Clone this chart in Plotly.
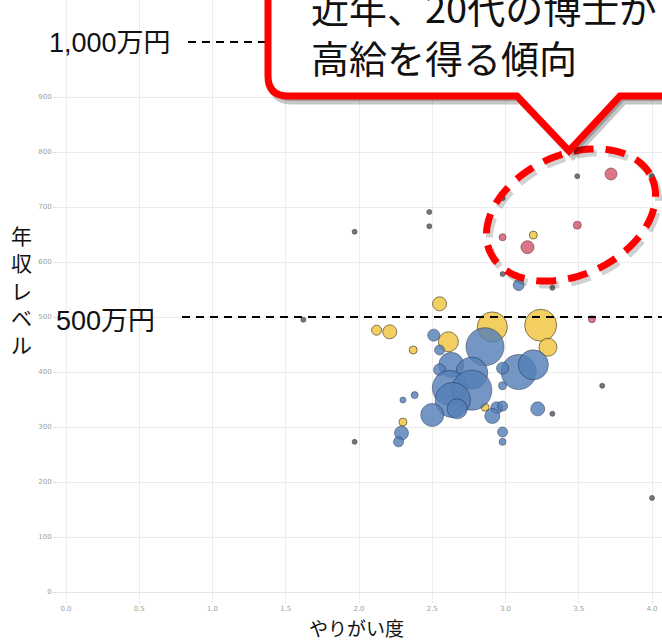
import math
import plotly.graph_objects as go

# ---- data: (やりがい度, 年収レベル, bubble size) per group ----
blue_x = [3.09, 2.51, 2.55, 2.86, 2.63, 2.77, 3.09, 3.19, 2.98, 2.55, 2.62, 2.77, 2.64,
          2.50, 2.67, 2.94, 2.98, 2.91, 3.22, 2.38, 2.30, 2.29, 2.27, 2.98, 2.98, 2.98]
blue_y = [558, 467, 440, 446, 413, 398, 400, 413, 407, 404, 371, 367, 349,
          322, 333, 335, 375, 320, 333, 358, 349, 289, 273, 291, 273, 338]
blue_s = [11, 12, 10, 38, 25, 32, 35, 30, 12, 12, 35, 40, 35,
          23, 20, 12, 8, 15, 14, 7, 6, 14, 10, 10, 7, 10]

yellow_x = [2.55, 2.12, 2.21, 2.91, 3.24, 3.29, 2.61, 2.37, 2.86, 2.30, 3.19]
yellow_y = [524, 476, 473, 482, 485, 445, 455, 440, 336, 309, 649]
yellow_s = [14, 10, 14, 30, 32, 18, 20, 8, 8, 8, 8]

pink_x = [3.72, 3.49, 2.98, 3.15, 3.59]
pink_y = [760, 667, 645, 627, 496]
pink_s = [12, 8, 7, 13, 7]

grey_x = [3.49, 4.00, 2.98, 2.48, 2.48, 1.97, 2.98, 3.32, 1.62, 3.32, 3.66, 1.97, 4.00]
grey_y = [756, 756, 716, 691, 665, 655, 578, 553, 495, 324, 375, 273, 171]
grey_s = [5, 5, 5, 5, 5, 5, 5, 5, 5, 5, 5, 5, 5]

x_ticks = [0.0, 0.5, 1.0, 1.5, 2.0, 2.5, 3.0, 3.5, 4.0]
y_ticks = [0, 100, 200, 300, 400, 500, 600, 700, 800, 900]

ref_levels = [500, 1000]
ref_labels = ["500万円", "1,000万円"]
callout_lines = ["近年、20代の博士が", "高給を得る傾向"]
y_title = "年収レベル"
x_title = "やりがい度"

# ---- layout geometry (pixels) ----
W, H = 662, 641
ML, MT, MB = 58, 0, 41
PW, PH = W - ML, H - MT - MB


def paper(px, py):
    return (px - ML) / PW, (MT + PH - py) / PH


JP = "Liberation Sans, Noto Sans CJK JP, sans-serif"

fig = go.Figure()


def bubbles(xs, ys, ss, color, line_color, opacity):
    fig.add_trace(go.Scatter(
        x=xs, y=ys, mode="markers",
        marker=dict(size=ss, sizemode="diameter", color=color, opacity=opacity,
                    line=dict(color=line_color, width=1)),
        hoverinfo="x+y", showlegend=False,
    ))


bubbles(yellow_x, yellow_y, yellow_s, "#f2c94c", "rgba(70,60,20,0.75)", 0.88)
bubbles(blue_x, blue_y, blue_s, "#5580b8", "rgba(30,40,70,0.6)", 0.82)
bubbles(pink_x, pink_y, pink_s, "#d9677a", "rgba(90,40,50,0.6)", 0.9)
bubbles(grey_x, grey_y, grey_s, "#5d5d66", "rgba(40,40,40,0.6)", 0.85)

shapes = []

# reference levels
x0_1000, _ = paper(188, 0)
x0_500, _ = paper(182, 0)
for lvl, x0 in zip(ref_levels, [x0_500, x0_1000]):
    shapes.append(dict(type="line", xref="paper", yref="y", x0=x0, x1=1.0,
                       y0=lvl, y1=lvl, layer="above",
                       line=dict(color="black", width=1.8, dash="8px,6px")))

# dashed ellipse around the high-income group
cx, cy, a, b, th = 571, 215, 89, 60, math.radians(25)


def ellipse_path(dx=0.0, dy=0.0):
    pts = []
    for i in range(97):
        t = 2 * math.pi * i / 96
        ex = cx + dx + a * math.cos(t) * math.cos(th) + b * math.sin(t) * math.sin(th)
        ey = cy + dy - a * math.cos(t) * math.sin(th) + b * math.sin(t) * math.cos(th)
        pts.append(paper(ex, ey))
    return "M " + " L ".join(f"{p[0]:.5f},{p[1]:.5f}" for p in pts) + " Z"


shapes.append(dict(type="path", xref="paper", yref="paper", path=ellipse_path(3, 4),
                   layer="above", line=dict(color="rgba(0,0,0,0.18)", width=7, dash="20px,12px")))
shapes.append(dict(type="path", xref="paper", yref="paper", path=ellipse_path(),
                   layer="above", line=dict(color="#ff0000", width=7, dash="20px,12px")))


# speech-bubble callout
def callout_path(dx=0.0, dy=0.0):
    seg = [("M", (720, -80)), ("L", (720, 96)), ("L", (620, 96)), ("L", (569, 151)),
           ("L", (517, 96)), ("L", (288, 96))]
    s = ""
    for cmd, (px, py) in seg:
        x, y = paper(px + dx, py + dy)
        s += f"{cmd} {x:.5f},{y:.5f} "
    qx, qy = paper(268 + dx, 96 + dy)
    ex, ey = paper(268 + dx, 76 + dy)
    s += f"Q {qx:.5f},{qy:.5f} {ex:.5f},{ey:.5f} "
    x, y = paper(268 + dx, -80 + dy)
    s += f"L {x:.5f},{y:.5f} Z"
    return s


shapes.append(dict(type="path", xref="paper", yref="paper", path=callout_path(4, 5),
                   layer="above", fillcolor="rgba(0,0,0,0.22)",
                   line=dict(color="rgba(0,0,0,0.22)", width=7)))
shapes.append(dict(type="path", xref="paper", yref="paper", path=callout_path(),
                   layer="above", fillcolor="white",
                   line=dict(color="#ff0000", width=7)))

annotations = []
for lbl, (px, py) in zip(ref_labels, [(157, 321), (173, 43)]):
    x, y = paper(px, py)
    annotations.append(dict(text=lbl, xref="paper", yref="paper", x=x, y=y,
                            xanchor="right", yanchor="middle", showarrow=False,
                            font=dict(family=JP, size=27, color="#111")))

for line, py in zip(callout_lines, [6, 57]):
    x, y = paper(309, py)
    annotations.append(dict(text=line, xref="paper", yref="paper", x=x, y=y,
                            xanchor="left", yanchor="middle", showarrow=False,
                            font=dict(family="Noto Sans CJK JP", size=38, color="#111")))

# vertical (stacked) y-axis title
x, y = paper(21, 290)
annotations.append(dict(text="<br>".join(y_title), xref="paper", yref="paper", x=x, y=y,
                        xanchor="center", yanchor="middle", showarrow=False, align="center",
                        font=dict(family="Noto Sans CJK JP", size=21, color="#111")))

x, y = paper(356, 627)
annotations.append(dict(text=x_title, xref="paper", yref="paper", x=x, y=y,
                        xanchor="center", yanchor="middle", showarrow=False,
                        font=dict(family="Noto Sans CJK JP", size=19, color="#111")))

# axis ranges from the pixel mapping: x=0 at 66px (146.5 px/unit), y=0 at 592px (0.55 px/unit)
x_lo = (ML - 66) / 146.5
x_hi = (W - 66) / 146.5
y_lo = (592 - (MT + PH)) / 0.55
y_hi = (592 - MT) / 0.55

fig.update_layout(
    width=W, height=H,
    margin=dict(l=ML, r=0, t=MT, b=MB, pad=0),
    paper_bgcolor="white", plot_bgcolor="white",
    shapes=shapes, annotations=annotations,
    xaxis=dict(range=[x_lo, x_hi], tickvals=x_ticks,
               ticktext=[f"{v:.1f}" for v in x_ticks],
               showgrid=True, gridcolor="#ececec", gridwidth=1,
               zeroline=False, showline=False,
               ticks="outside", ticklen=2, tickcolor="#dddddd",
               tickfont=dict(size=7, color="#a0a0a0", family="DejaVu Sans")),
    yaxis=dict(range=[y_lo, y_hi], tickvals=y_ticks,
               showgrid=True, gridcolor="#ececec", gridwidth=1,
               zeroline=True, zerolinecolor="#e4e4e4", zerolinewidth=1, showline=False,
               ticks="outside", ticklen=4, tickcolor="#dddddd",
               tickfont=dict(size=7, color="#a0a0a0", family="DejaVu Sans")),
    hovermode="closest",
)

fig.write_html("out.html")
